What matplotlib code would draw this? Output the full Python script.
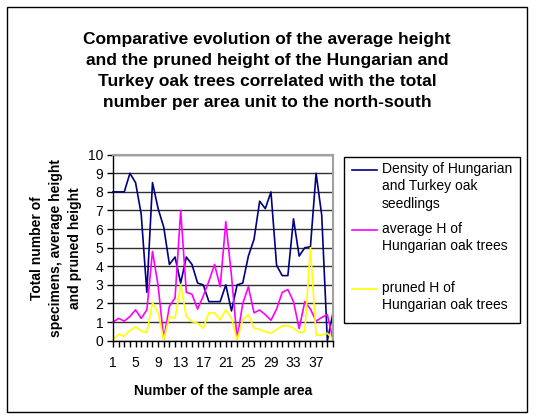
import matplotlib
matplotlib.use('Agg')
import matplotlib.pyplot as plt
from matplotlib.patches import Rectangle
from matplotlib.lines import Line2D
import numpy as np

plt.rcParams['font.family'] = ['Liberation Sans', 'DejaVu Sans']

# sample areas 1..40
areas = list(range(1, 41))
tick_labels = [str(a) if (a - 1) % 4 == 0 else '' for a in areas]

# Density of Hungarian and Turkey oak seedlings
density = [8, 8, 8, 9, 8.5, 6.8, 2.6, 8.5, 7.1, 6.1,
           4.1, 4.5, 3.1, 4.5, 4.1, 3.1, 3.0, 2.1, 2.1, 2.1,
           3.0, 1.6, 3.0, 3.1, 4.55, 5.45, 7.5, 7.1, 8.0, 4.05,
           3.5, 3.5, 6.55, 4.55, 5.0, 5.05, 9.0, 6.75, 0.0, 1.5]
# average H of Hungarian oak trees
avg_h = [1.0, 1.2, 1.05, 1.3, 1.66, 1.2, 1.66, 4.8, 2.95, 0.1,
         1.85, 2.3, 7.0, 2.6, 2.5, 1.7, 2.4, 3.2, 4.1, 2.9,
         6.4, 3.5, 0.1, 2.0, 2.9, 1.5, 1.65, 1.4, 1.1, 1.7,
         2.6, 2.75, 2.1, 0.65, 2.1, 1.7, 1.05, 1.25, 1.4, 0.05]
# pruned H of Hungarian oak trees
pruned_h = [0.07, 0.34, 0.25, 0.55, 0.75, 0.52, 0.43, 2.05, 1.5, 0.05,
            1.3, 1.2, 3.0, 1.3, 1.03, 0.94, 0.67, 1.5, 1.5, 1.12,
            1.66, 1.2, 0.05, 1.12, 1.4, 0.67, 0.61, 0.49, 0.4, 0.6,
            0.8, 0.8, 0.67, 0.45, 0.49, 5.0, 0.3, 0.3, 0.4, 0.05]

series_names = ['Density of Hungarian\nand Turkey oak\nseedlings',
                'average H of\nHungarian oak trees',
                'pruned H of\nHungarian oak trees']
series_colors = ['#000080', '#FF00FF', '#FFFF00']

W, H = 534, 419
fig = plt.figure(figsize=(W / 100, H / 100), dpi=100)

def fx(px):
    return px / W

def fy(py):
    return 1 - py / H

# outer chart border
fig.add_artist(Rectangle((fx(7), fy(412)), fx(520), (405) / H, transform=fig.transFigure,
                         fill=False, edgecolor='black', lw=1))

ax = fig.add_axes([fx(113), fy(340.7), fx(333) - fx(113), (340.7 - 154.7) / H])
for data, c in zip([density, avg_h, pruned_h], series_colors):
    ax.plot(areas, data, color=c, lw=1.2, clip_on=False)

ax.set_xlim(1, 40)
ax.set_ylim(0, 10)
ax.set_yticks(range(0, 11))
ax.set_xticks(areas)
ax.set_xticklabels(tick_labels, fontsize=10)
ax.tick_params(axis='y', labelsize=10, direction='out', length=4, width=1, pad=3)
ax.tick_params(axis='x', direction='out', length=4, width=1, pad=7)
ax.yaxis.grid(True, color='#303030', lw=1)
ax.set_axisbelow(True)
for s in ['top', 'right']:
    ax.spines[s].set_color('#a0a0a0')
    ax.spines[s].set_linewidth(1.5)
for s in ['left', 'bottom']:
    ax.spines[s].set_color('black')
    ax.spines[s].set_linewidth(1)

ax.set_xlabel('Number of the sample area', fontsize=10, fontweight='bold', labelpad=10)
ax.set_ylabel('Total number of\nspecimens, average height\nand pruned height',
              fontsize=10, fontweight='bold', labelpad=4, linespacing=1.45)

fig.text(0.5, fy(71), 'Comparative evolution of the average height\n'
         'and the pruned height of the Hungarian and\n'
         'Turkey oak trees correlated with the total\n'
         'number per area unit to the north-south',
         ha='center', va='center', fontsize=12.5, fontweight='bold', linespacing=1.5)

# legend box
fig.add_artist(Rectangle((fx(344), fy(323)), fx(520) - fx(344), (323 - 157) / H,
                         transform=fig.transFigure, fill=False, edgecolor='black', lw=1))
for name, c, ly in zip(series_names, series_colors, [170, 230, 289]):
    fig.add_artist(Line2D([fx(352), fx(377)], [fy(ly), fy(ly)], color=c, lw=1.2,
                          transform=fig.transFigure))
    fig.text(fx(382), fy(ly - 8), name, ha='left', va='top', fontsize=10, linespacing=1.3)

fig.savefig('out.png', dpi=100)
